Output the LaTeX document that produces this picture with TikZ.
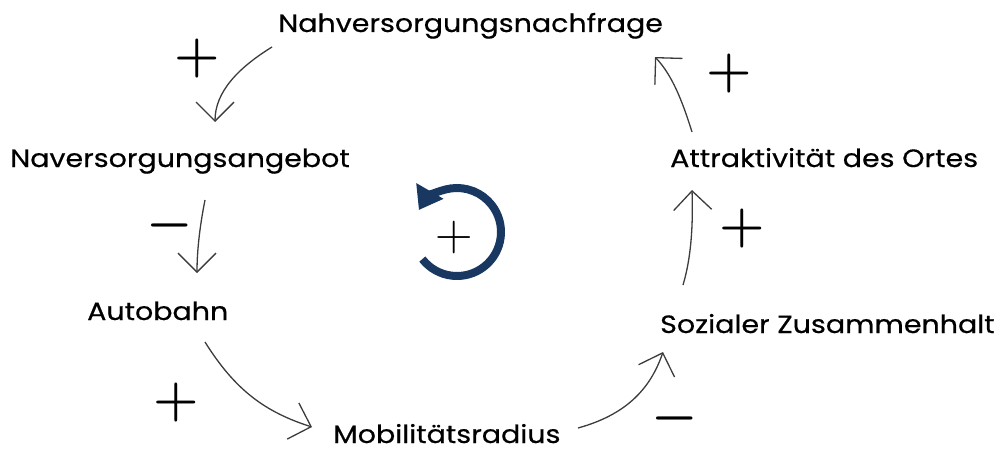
\RequirePackage{fix-cm}
\documentclass[tikz,border=0pt]{standalone}
\usepackage{fontspec}
\setmainfont{Poppins}[FakeStretch=1.14, FakeBold=0.5]
\usetikzlibrary{arrows.meta}
\definecolor{navy}{RGB}{24,56,98}
\definecolor{conn}{RGB}{60,60,60}
\tikzset{
  lbl/.style={font=\fontsize{25}{29}\selectfont, inner sep=0pt, anchor=base west},
  sign/.style={font=\fontsize{52}{52}\selectfont\boldmath, inner sep=0pt},
  link/.style={draw=conn, line width=1.3pt, -{Straight Barb[length=19pt,width=38pt,line width=1.3pt]}},
}
\begin{document}
\begin{tikzpicture}[x=1pt,y=-1pt]
\useasboundingbox (0,0) rectangle (1000,452);
% labels
\node[lbl] (nachfrage) at (278,32) {Nahversorgungsnachfrage};
\node[lbl] (angebot) at (10,167) {Naversorgungsangebot};
\node[lbl] (autobahn) at (87,320) {Autobahn};
\node[lbl] (mobil) at (333,443) {Mobilitätsradius};
\node[lbl] (sozial) at (660,333) {Sozialer Zusammenhalt};
\node[lbl] (attr) at (670,167) {Attraktivität des Ortes};
% anchor coordinates for connectors
\coordinate (a1s) at (272,47);  \coordinate (a1e) at (215,122);
\coordinate (a2s) at (205,200); \coordinate (a2e) at (197,273);
\coordinate (a3s) at (205,342); \coordinate (a3e) at (312,427);
\coordinate (a4s) at (578,428); \coordinate (a4e) at (663,352);
\coordinate (a5s) at (683,285); \coordinate (a5e) at (692,190);
\coordinate (a6s) at (692,132); \coordinate (a6e) at (655,57);
% connectors
\draw[link] (a1s) .. controls (238,68) and (215,92) .. (a1e);
\draw[link] (a2s) .. controls (200,225) and (197,250) .. (a2e);
\draw[link] (a3s) .. controls (235,390) and (265,412) .. (a3e);
\draw[link] (a4s) .. controls (625,415) and (650,390) .. (a4e);
\draw[link] (a5s) .. controls (692,255) and (693,220) .. (a5e);
\draw[link] (a6s) .. controls (682,100) and (672,75) .. (a6e);
% signs
\node[sign] (s1) at (197,58) {$+$};
\node[sign] (s2) at (170,225) {$-$};
\node[sign] (s3) at (176,402) {$+$};
\node[sign] (s4) at (675,418) {$-$};
\node[sign] (s5) at (742,228) {$+$};
\node[sign] (s6) at (729,73) {$+$};
% loop symbol
\coordinate (loopc) at (457,232);
\draw[navy, line width=8pt, -{Triangle[length=22pt,width=30pt]}]
  ([shift={(142:44)}]loopc) arc[start angle=142, end angle=-150, radius=44];
\node[font=\fontsize{52}{52}\selectfont, inner sep=0pt] (loopsign) at (454,237) {$+$};
\end{tikzpicture}
\end{document}
